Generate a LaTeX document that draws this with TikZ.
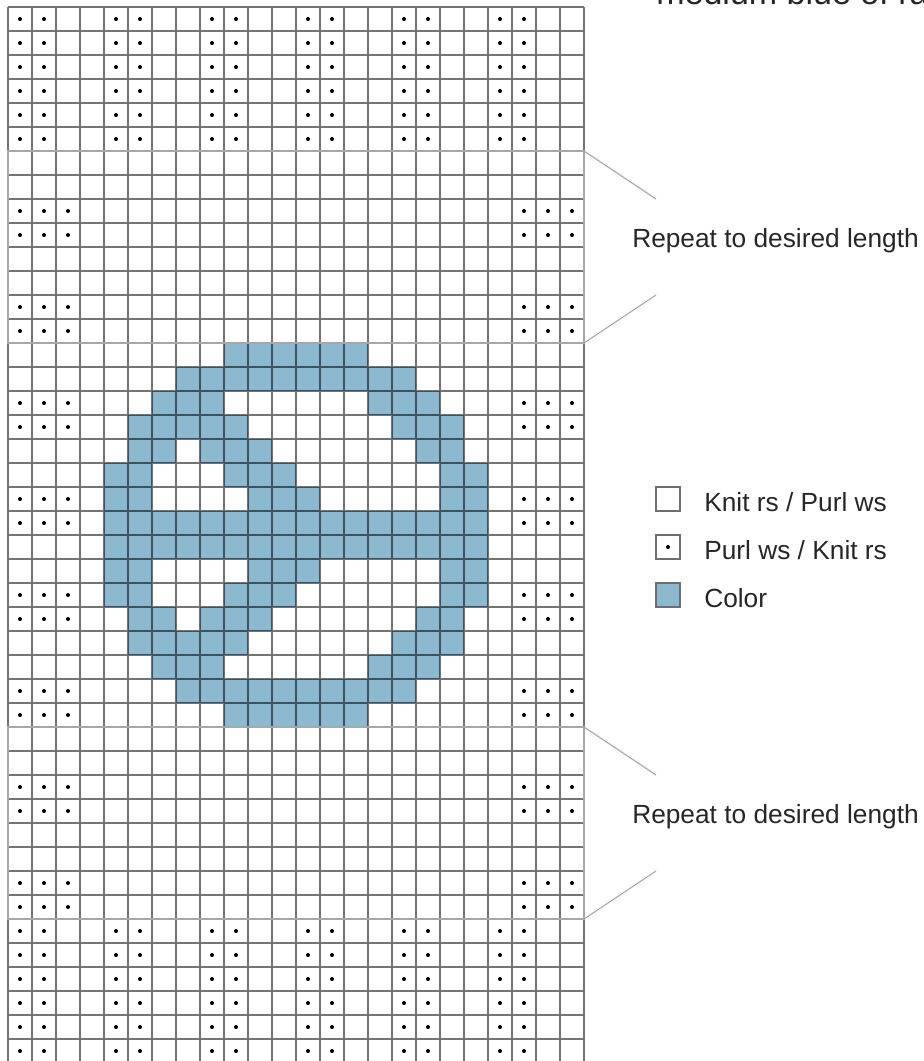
\documentclass[tikz,border=0pt]{standalone}
\usepackage{fontspec}
\setmainfont{Liberation Sans}
\usetikzlibrary{positioning}
\definecolor{yarn}{HTML}{8DB9D0}
\definecolor{repeatline}{HTML}{A8A8A8}
\definecolor{keyline}{HTML}{6E6E6E}
\definecolor{ink}{HTML}{262626}
\tikzset{
  gridline/.style={line width=0.9pt, draw=black, draw opacity=0.55},
  repeatbox/.style={line width=0.8pt, draw=repeatline},
  purldot/.style={fill=black},
  colorcell/.style={fill=yarn},
  keybox/.style={draw=keyline, line width=0.8pt, minimum size=0.6cm, inner sep=0pt, outer sep=0pt},
  keytext/.style={font=\fontsize{18.7}{22}\selectfont, text=ink, inner sep=0pt, anchor=base west},
  captiontext/.style={font=\fontsize{24.2}{28}\selectfont, text=ink, inner sep=0pt, anchor=base west}
}

\begin{document}
\begin{tikzpicture}[x=0.6cm,y=-0.6cm]
\useasboundingbox (-0.3333,-0.2917) rectangle (38.1667,43.9167);
\clip (-0.3333,-0.2917) rectangle (38.1667,43.9167);

% --- Colour motif (rows 15--30) ---
\foreach \r/\cl in {15/{10,...,15}, 16/{8,...,17}, 17/{7,8,9,16,17,18},
    18/{6,7,8,9,10,17,18,19}, 19/{6,7,9,10,11,18,19}, 20/{5,6,10,11,12,19,20},
    21/{5,6,11,12,13,19,20}, 22/{5,...,20}, 23/{5,...,20},
    24/{5,6,11,12,13,19,20}, 25/{5,6,10,11,12,19,20}, 26/{6,7,9,10,11,18,19},
    27/{6,7,8,9,10,17,18,19}, 28/{7,8,9,16,17,18}, 29/{8,...,17}, 30/{10,...,15}}
  \foreach \c in \cl
    \fill[colorcell] (\c-1,\r-1) rectangle (\c,\r);

% --- Chart grid ---
\draw[gridline]
  \foreach \i in {0,...,24} {(\i,0) -- (\i,44)}
  \foreach \j in {0,...,44} {(0,\j) -- (24,\j)};

% --- Purl dots: borders ---
\foreach \r in {1,...,6,39,40,41,42,43,44}
  \foreach \c in {1,5,...,21} {
    \fill[purldot] (\c-0.5,\r-0.5) circle (0.05cm);
    \fill[purldot] (\c+0.5,\r-0.5) circle (0.05cm);
  }

% --- Purl dots: side columns ---
\foreach \r in {9,13,...,37}
  \foreach \c in {1,2,3,22,23,24} {
    \fill[purldot] (\c-0.5,\r-0.5) circle (0.05cm);
    \fill[purldot] (\c-0.5,\r+0.5) circle (0.05cm);
  }

% --- Repeat sections ---
\draw[repeatbox] (0,6) rectangle (24,14);
\draw[repeatbox] (0,30) rectangle (24,38);
\coordinate (upperTop) at (24,6);
\coordinate (upperBot) at (24,14);
\coordinate (lowerTop) at (24,30);
\coordinate (lowerBot) at (24,38);
\coordinate (upperTopEnd) at (27,8);
\coordinate (upperBotEnd) at (27,12);
\coordinate (lowerTopEnd) at (27,32);
\coordinate (lowerBotEnd) at (27,36);
\draw[repeatbox] (upperTop) -- (upperTopEnd);
\draw[repeatbox] (upperBot) -- (upperBotEnd);
\draw[repeatbox] (lowerTop) -- (lowerTopEnd);
\draw[repeatbox] (lowerBot) -- (lowerBotEnd);
\node[keytext] (upperNote) at (26,10) {Repeat to desired length};
\node[keytext] (lowerNote) at (26,34) {Repeat to desired length};

% --- Caption ---
\node[captiontext] (yarnNote) at (27,-0.125) {medium blue of ra};

% --- Legend ---
\node[keybox] (knitKey) at (27.5,20.5) {};
\node[keybox] (purlKey) at (27.5,22.5) {};
\node[keybox, fill=yarn] (colorKey) at (27.5,24.5) {};
\fill[purldot] (purlKey.center) circle (0.05cm);
\node[keytext] (knitLabel) at (29,21) {Knit rs / Purl ws};
\node[keytext] (purlLabel) at (29,23) {Purl ws / Knit rs};
\node[keytext] (colorLabel) at (29,25) {Color};

\end{tikzpicture}
\end{document}
